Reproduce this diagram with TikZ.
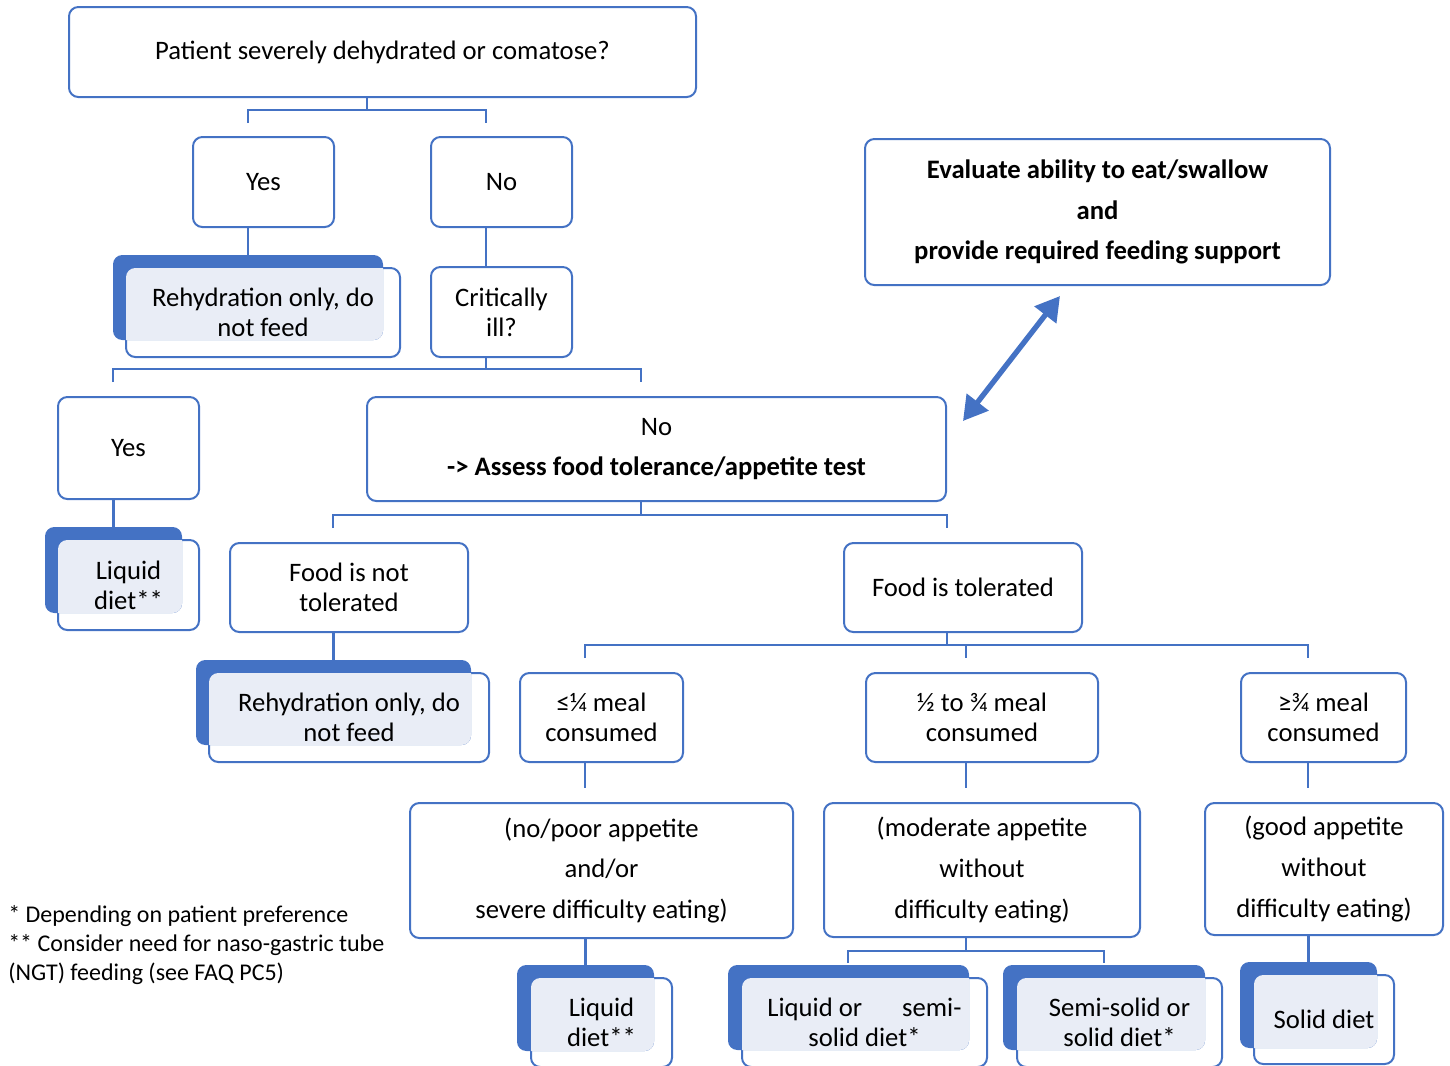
\documentclass[tikz,border=0pt]{standalone}
\usepackage{fontspec}
\setmainfont{Carlito}
\usetikzlibrary{arrows.meta}
\definecolor{bl}{HTML}{4472C4}
\definecolor{lt}{HTML}{E9EDF6}
\begin{document}
\begin{tikzpicture}[x=0.75pt,y=-0.75pt,
  box/.style={draw=bl, line width=1.5pt, rounded corners=7pt, fill=white, inner sep=0pt, outer sep=0pt},
  sz/.style 2 args={minimum width=#1*0.75pt, minimum height=#2*0.75pt},
  back/.style={fill=bl, rounded corners=7pt, inner sep=0pt, outer sep=0pt},
  lbl/.style={inner sep=0pt, align=center, font=\fontsize{20}{22.5}\selectfont},
  lbl3/.style={inner sep=0pt, align=center, font=\fontsize{20}{30.5}\selectfont},
  conn/.style={draw=bl, line width=1.9pt},
  dbl/.style={draw=bl, line width=4pt, {Triangle[length=18pt,width=20pt]}-{Triangle[length=18pt,width=20pt]}}]
\useasboundingbox (0,0) rectangle (1450,1065);
\clip (0,0) rectangle (1450,1065);

% ---------- plain boxes ----------
\node[box,lbl,sz={627}{90}] (top) at (382.5,52) {Patient severely dehydrated or comatose?};
\node[box,lbl,sz={141}{90}] (yes1) at (263.5,182) {Yes};
\node[box,lbl,sz={141}{90}] (no1) at (501.5,182) {No};
\node[box,lbl,sz={141}{90}] (crit) at (501.5,312) {Critically\\ill?};
\node[box,lbl,sz={141}{102}] (yes2) at (128.5,448) {Yes};
\node[box,lbl3,sz={579}{104}] (no2) at (656.5,449) {No\\\textbf{-> Assess food tolerance/appetite test}};
\node[box,lbl,sz={238}{89}] (fnt) at (349,587.5) {Food is not\\tolerated};
\node[box,lbl,sz={238}{89}] (ft) at (963,587.5) {Food is tolerated};
\node[box,lbl,sz={163}{89}] (q1) at (601.5,717.5) {≤¼ meal\\consumed};
\node[box,lbl,sz={232}{89}] (q2) at (982,717.5) {½ to ¾ meal\\consumed};
\node[box,lbl,sz={165}{89}] (q3) at (1323.5,717.5) {≥¾ meal\\consumed};
\node[box,lbl3,sz={383}{135}] (a1) at (601.5,870.5) {(no/poor appetite\\and/or\\severe difficulty eating)};
\node[box,lbl3,sz={316}{134}] (a2) at (982,870) {(moderate appetite\\without\\difficulty eating)};
\node[box,lbl3,sz={238}{132}] (a3) at (1324,869) {(good appetite\\without\\difficulty eating)};
\node[box,lbl3,sz={465}{146}] (eval) at (1097.5,212) {\textbf{Evaluate ability to eat/swallow}\\\textbf{and}\\\textbf{provide required feeding support}};

% ---------- shaded result boxes ----------
% rehydration 1
\node[box,sz={274}{89}] (rh1) at (263,312.5) {};
\node[back,sz={270}{85}] (rh1b) at (248,297.5) {};
\begin{scope}
  \clip[rounded corners=7pt] (rh1b.south west) rectangle (rh1b.north east);
  \fill[lt,rounded corners=7pt] (rh1.south west) rectangle (rh1.north east);
\end{scope}
\node[lbl] (rh1t) at (rh1) {Rehydration only, do\\not feed};
% liquid 1
\node[box,sz={141}{90}] (liq1) at (128.5,585) {};
\node[back,sz={137}{86}] (liq1b) at (113.5,570) {};
\begin{scope}
  \clip[rounded corners=7pt] (liq1b.south west) rectangle (liq1b.north east);
  \fill[lt,rounded corners=7pt] (liq1.south west) rectangle (liq1.north east);
\end{scope}
\node[lbl] (liq1t) at (liq1) {Liquid\\diet**};
% rehydration 2
\node[box,sz={280}{89}] (rh2) at (349,717.5) {};
\node[back,sz={275}{85}] (rh2b) at (333.5,702.5) {};
\begin{scope}
  \clip[rounded corners=7pt] (rh2b.south west) rectangle (rh2b.north east);
  \fill[lt,rounded corners=7pt] (rh2.south west) rectangle (rh2.north east);
\end{scope}
\node[lbl] (rh2t) at (rh2) {Rehydration only, do\\not feed};
% liquid 2
\node[box,sz={141}{89}] (d1) at (601.5,1022.5) {};
\node[back,sz={137}{86}] (d1b) at (585.5,1008) {};
\begin{scope}
  \clip[rounded corners=7pt] (d1b.south west) rectangle (d1b.north east);
  \fill[lt,rounded corners=7pt] (d1.south west) rectangle (d1.north east);
\end{scope}
\node[lbl] (d1t) at (d1) {Liquid\\diet**};
% liquid or semi-solid
\node[box,sz={245}{89}] (d2) at (864.5,1022.5) {};
\node[back,sz={241}{85}] (d2b) at (848.5,1007.5) {};
\begin{scope}
  \clip[rounded corners=7pt] (d2b.south west) rectangle (d2b.north east);
  \fill[lt,rounded corners=7pt] (d2.south west) rectangle (d2.north east);
\end{scope}
\node[lbl] (d2t) at (d2) {Liquid or\hspace{1.5em}semi-\\solid diet*};
% semi-solid or solid
\node[box,sz={205}{89}] (d3) at (1119.5,1022.5) {};
\node[back,sz={202}{85}] (d3b) at (1104,1007.5) {};
\begin{scope}
  \clip[rounded corners=7pt] (d3b.south west) rectangle (d3b.north east);
  \fill[lt,rounded corners=7pt] (d3.south west) rectangle (d3.north east);
\end{scope}
\node[lbl] (d3t) at (d3) {Semi-solid or\\solid diet*};
% solid
\node[box,sz={140}{89}] (d4) at (1324,1019.5) {};
\node[back,sz={137}{86}] (d4b) at (1308.5,1005) {};
\begin{scope}
  \clip[rounded corners=7pt] (d4b.south west) rectangle (d4b.north east);
  \fill[lt,rounded corners=7pt] (d4.south west) rectangle (d4.north east);
\end{scope}
\node[lbl] (d4t) at (d4) {Solid diet};

% ---------- connectors ----------
\coordinate (j1) at (367,110); \coordinate (j1l) at (248,110); \coordinate (j1r) at (486,110);
\draw[conn] (top.south -| j1) -- (j1);
\draw[conn] (j1l) ++(0,13) -- (j1l) -- (j1r) -- ++(0,13);
\draw[conn] (yes1.south -| rh1b) -- (rh1b.north);
\draw[conn] (no1.south -| j1r) -- (crit.north -| j1r);

\coordinate (j2) at (486,369); \coordinate (j2l) at (113,369); \coordinate (j2r) at (641,369);
\draw[conn] (crit.south -| j2) -- (j2);
\draw[conn] (j2l) ++(0,13) -- (j2l) -- (j2r) -- ++(0,13);
\draw[conn] (yes2.south -| liq1b) -- (liq1b.north);

\coordinate (j3) at (641,515); \coordinate (j3l) at (333,515); \coordinate (j3r) at (947,515);
\draw[conn] (no2.south -| j3) -- (j3);
\draw[conn] (j3l) ++(0,13) -- (j3l) -- (j3r) -- ++(0,13);
\draw[conn] (fnt.south -| rh2b) -- (rh2b.north);

\coordinate (j4) at (947,645); \coordinate (j4l) at (585,645); \coordinate (j4m) at (966,645); \coordinate (j4r) at (1308,645);
\draw[conn] (ft.south -| j4) -- (j4);
\draw[conn] (j4l) ++(0,13) -- (j4l) -- (j4r) -- ++(0,13);
\draw[conn] (j4m) -- ++(0,13);
\draw[conn] (q1.south -| j4l) -- ++(0,26);
\draw[conn] (q2.south -| j4m) -- ++(0,26);
\draw[conn] (q3.south -| j4r) -- ++(0,26);

\draw[conn] (a1.south -| d1b) -- (d1b.north);
\coordinate (j5) at (966,951); \coordinate (j5l) at (848,951); \coordinate (j5r) at (1104,951);
\draw[conn] (a2.south -| j5) -- (j5);
\draw[conn] (j5l) ++(0,12) -- (j5l) -- (j5r) -- ++(0,12);
\draw[conn] (a3.south -| d4b) -- (d4b.north);

% double arrow
\coordinate (ar1) at (963,421); \coordinate (ar2) at (1060,296);
\draw[dbl] (ar1) -- (ar2);

% footnotes
\node[anchor=west, align=left, inner sep=0pt, font=\fontsize{18}{21.75}\selectfont] (foot) at (8,945)
  {* Depending on patient preference\\** Consider need for naso-gastric tube\\(NGT) feeding (see FAQ PC5)};
\end{tikzpicture}
\end{document}
